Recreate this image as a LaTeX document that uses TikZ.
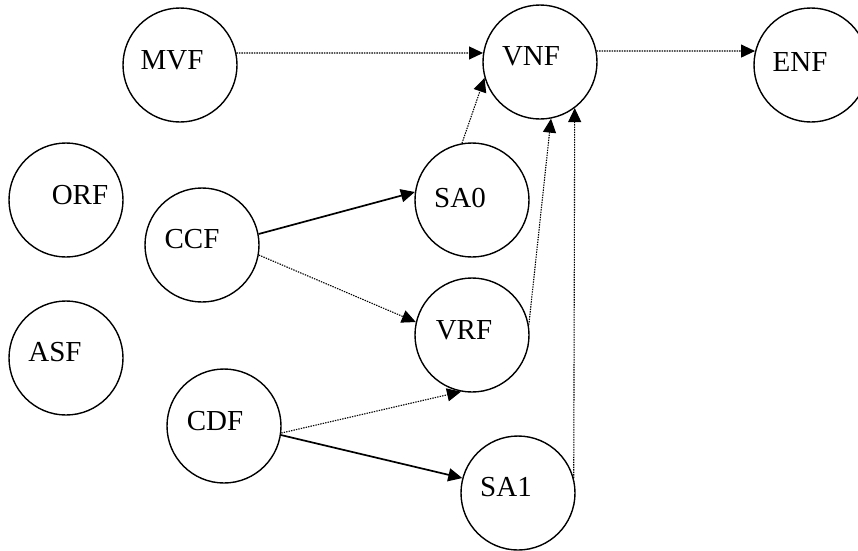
\documentclass[tikz,border=0pt]{standalone}
\usepackage{fontspec}
\setmainfont{Liberation Serif}
\usetikzlibrary{arrows.meta}
\begin{document}
\begin{tikzpicture}[x=1pt,y=-1pt,
  circ/.style={draw,circle,line width=1.4pt,minimum size=114pt,inner sep=0pt},
  lab/.style={inner sep=0pt,font=\fontsize{29}{34}\selectfont},
  dotarrow/.style={line width=1.1pt,dash pattern=on 1.4pt off 1.1pt,-{Triangle[length=14pt,width=13pt]}},
  solidarrow/.style={line width=1.7pt,-{Triangle[length=14pt,width=13pt]}}]
\clip (0,0) rectangle (858,550);
\fill[white] (0,0) rectangle (858,550);
% circles
\node[circ] (MVF) at (180,65) {};
\node[circ] (VNF) at (540,62) {};
\node[circ] (ENF) at (811,65) {};
\node[circ] (ORF) at (66,200) {};
\node[circ] (CCF) at (202,245) {};
\node[circ] (SA0) at (472,200) {};
\node[circ] (ASF) at (66,358) {};
\node[circ] (VRF) at (472,335) {};
\node[circ] (CDF) at (224,426) {};
\node[circ] (SA1) at (518,493) {};
% labels
\node[lab] (tMVF) at (172,60) {MVF};
\node[lab] (tVNF) at (531,56) {VNF};
\node[lab] (tENF) at (800,62) {ENF};
\node[lab] (tORF) at (80,195) {ORF};
\node[lab] (tCCF) at (192,239) {CCF};
\node[lab] (tSA0) at (460,198) {SA0};
\node[lab] (tASF) at (55,352) {ASF};
\node[lab] (tVRF) at (464,330) {VRF};
\node[lab] (tCDF) at (215,421) {CDF};
\node[lab] (tSA1) at (506,487) {SA1};
% connectors
\draw[dotarrow] (MVF.12) -- (VNF.171);
\draw[dotarrow] (VNF.11) -- (ENF.166);
\draw[solidarrow] (CCF.11) -- (SA0.172);
\draw[dotarrow] (CCF.-10) -- (VRF.167);
\draw[dotarrow] (CDF.-7) -- (VRF.259);
\draw[solidarrow] (CDF.-9) -- (SA1.165);
\draw[dotarrow] (SA0.100) -- (VNF.196);
\draw[dotarrow] (VRF.10) -- (VNF.281);
\draw[dotarrow] (SA1.15) -- (VNF.307);
\end{tikzpicture}
\end{document}
